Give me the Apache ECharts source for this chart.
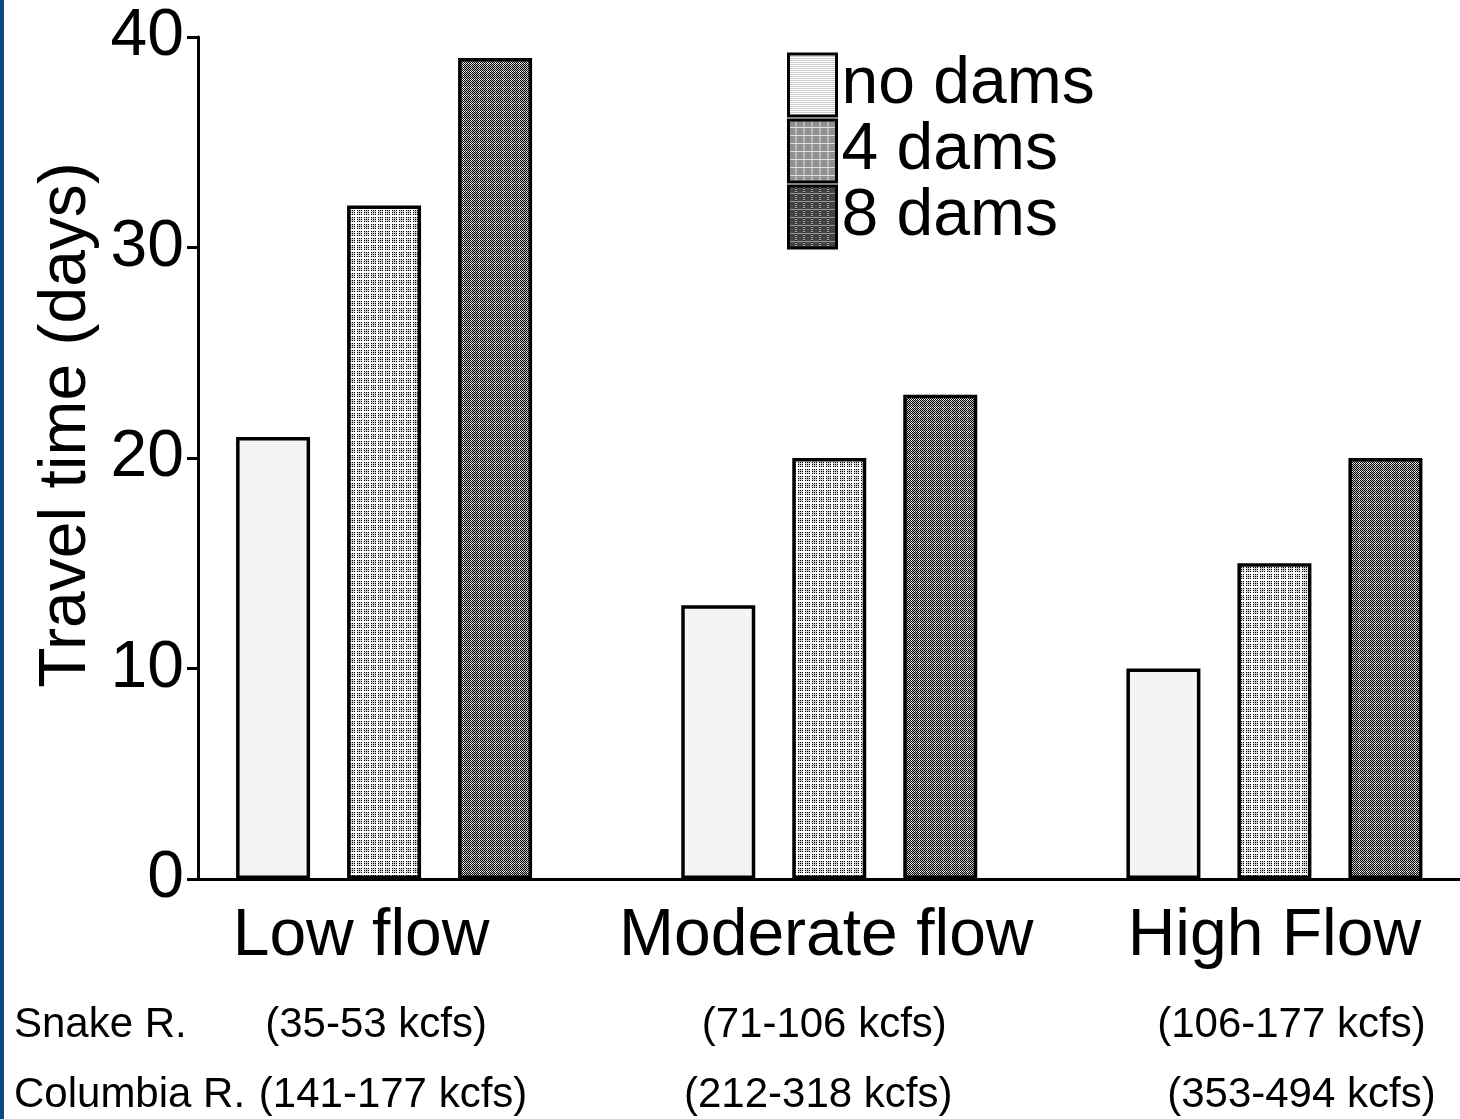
<!DOCTYPE html>
<html><head><meta charset="utf-8">
<script src="https://cdn.jsdelivr.net/npm/echarts@6/dist/echarts.min.js"></script>
<style>html,body{margin:0;padding:0;background:#fff;overflow:hidden;width:1460px;height:1119px}#c{width:1497px;height:1119px}</style>
</head><body><div id="c"></div>
<script>
const categories = ['Low flow', 'Moderate flow', 'High Flow'];
const snakeRanges = ['(35-53 kcfs)', '(71-106 kcfs)', '(106-177 kcfs)'];
const columbiaRanges = ['(141-177 kcfs)', '(212-318 kcfs)', '(353-494 kcfs)'];
const rowLabels = ['Snake R.', 'Columbia R.'];
const seriesNames = ['no dams', '4 dams', '8 dams'];
const noDams = [21, 13, 10];
const fourDams = [32, 20, 15];
const eightDams = [39, 23, 20];
const yMin = 0, yMax = 40, yStep = 10;

const FONT = "'Liberation Sans', Arial, sans-serif";

function makePattern(size, fn) {
  const c = document.createElement('canvas');
  c.width = size; c.height = size;
  const ctx = c.getContext('2d');
  ctx.fillStyle = '#fff';
  ctx.fillRect(0, 0, size, size);
  for (let y = 0; y < size; y++) for (let x = 0; x < size; x++) {
    const col = fn(x, y);
    if (col) { ctx.fillStyle = col; ctx.fillRect(x, y, 1, 1); }
  }
  return c;
}
// bar fills
const patNo = makePattern(2, (x, y) => (x === 0 && y === 0) ? '#e8e8e8' : '#f8f8f8');
const patFour = makePattern(7, (x, y) => (x < 5 && y < 5) ? ((x % 2 === 0 && y % 2 === 0) ? '#000' : '#d0d0d0') : null);
const patEight = makePattern(8, (x, y) => ((x + y) % 2 === 0 ? '#000' : (x === 7 || y === 7 ? '#fff' : '#bbb')));
// legend fills
const legNo = makePattern(2, (x, y) => (x === 0 && y === 0) ? '#999' : '#fff');
const legFour = makePattern(8, (x, y) => (x === 7 || y === 7) ? '#e0e0e0' : ((x + y) % 2 === 0 ? '#777' : '#aaa'));
const legEight = makePattern(8, (x, y) => (x === 7 || y === 7) ? ((x + y) % 2 === 0 ? '#fff' : '#333') : ((x + y) % 2 === 0 ? '#222' : '#666'));
const fills = [patNo, patFour, patEight];
const legFills = [legNo, legFour, legEight];
const values = [noDams, fourDams, eightDams];

// small horizontal nudges of the three label lines, per category (px, + = right)
const shiftA = [-23, -3, 0];
const shiftB = [-8, -5, 17];
const shiftC = [9, -11, 27];
const rich = {};
categories.forEach((c, i) => {
  const pad = d => d >= 0 ? [0, 0, 0, 2 * d] : [0, -2 * d, 0, 0];
  rich['a' + i] = {fontFamily: FONT, fontSize: 66, lineHeight: 106, color: '#000', padding: pad(shiftA[i])};
  rich['b' + i] = {fontFamily: FONT, fontSize: 42, lineHeight: 70, color: '#000', padding: pad(shiftB[i])};
  rich['c' + i] = {fontFamily: FONT, fontSize: 42, lineHeight: 70, color: '#000', padding: pad(shiftC[i])};
});

const chart = echarts.init(document.getElementById('c'), null, {renderer: 'canvas'});
const option = {
  animation: false,
  backgroundColor: '#fff',
  textStyle: {fontFamily: FONT, color: '#000'},
  grid: [
    {left: 161.5, right: 0, top: 37, bottom: 240, containLabel: false},
    {left: 198, right: 0, top: 37, bottom: 240, containLabel: false}
  ],
  legend: {
    orient: 'vertical', left: 787, top: 52, padding: 0, itemGap: 0,
    itemWidth: 48, itemHeight: 62, icon: 'rect',
    data: seriesNames.map((n, k) => ({name: n, itemStyle: {color: {image: legFills[k], repeat: 'repeat'}, borderColor: '#000', borderWidth: 3}})),
    textStyle: {fontFamily: FONT, fontSize: 66, color: '#000', lineHeight: 62}
  },
  xAxis: [
    {
      type: 'category', gridIndex: 0, data: categories,
      axisLine: {show: false}, axisTick: {show: false}, splitLine: {show: false},
      axisLabel: {
        margin: 5, interval: 0,
        formatter: (v, i) => `{a${i}|${v}}\n{b${i}|${snakeRanges[i]}}\n{c${i}|${columbiaRanges[i]}}`,
        rich
      }
    },
    {
      type: 'value', gridIndex: 1, min: 0, max: 1,
      axisLine: {show: true, lineStyle: {color: '#000', width: 3}},
      axisTick: {show: false}, axisLabel: {show: false}, splitLine: {show: false}
    }
  ],
  yAxis: [
    {type: 'value', gridIndex: 0, min: yMin, max: yMax, interval: yStep, show: false, splitLine: {show: false}},
    {
      type: 'value', gridIndex: 1, min: yMin, max: yMax, interval: yStep,
      name: 'Travel time (days)', nameLocation: 'middle', nameGap: 92,
      nameTextStyle: {fontFamily: FONT, fontSize: 66, color: '#000', padding: [0, 0, 0, 66]},
      axisLine: {show: true, lineStyle: {color: '#000', width: 3}},
      axisTick: {show: true, length: 11, lineStyle: {color: '#000', width: 3}},
      axisLabel: {fontFamily: FONT, fontSize: 66, color: '#000', margin: 14},
      splitLine: {show: false}
    }
  ],
  series: seriesNames.map((name, k) => ({
    name, type: 'bar', xAxisIndex: 0, yAxisIndex: 0,
    data: values[k], barWidth: 74, barGap: '50%',
    itemStyle: {color: {image: fills[k], repeat: 'repeat'}, borderColor: '#000', borderWidth: 3.5}
  })),
  graphic: [
    {type: 'rect', left: 0, top: 0, shape: {width: 4, height: 1119}, style: {fill: '#0B4A80'}, silent: true},
    {type: 'text', x: 14, y: 1025, style: {text: rowLabels[0], font: '42px ' + FONT, fill: '#000', verticalAlign: 'middle'}},
    {type: 'text', x: 14, y: 1095, style: {text: rowLabels[1], font: '42px ' + FONT, fill: '#000', verticalAlign: 'middle'}}
  ]
};
chart.setOption(option);
</script>
</body></html>
